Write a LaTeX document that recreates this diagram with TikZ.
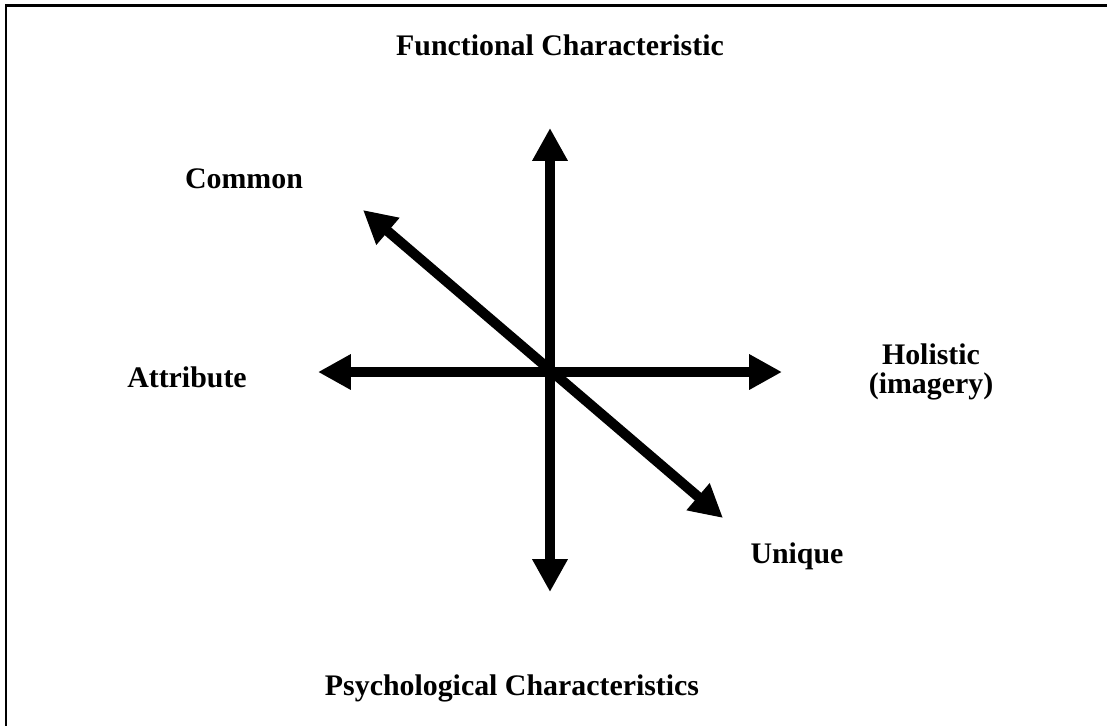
\documentclass[tikz,border=0pt]{standalone}
\usepackage{fontspec}
\setmainfont{Liberation Serif}
\usetikzlibrary{arrows.meta}
\begin{document}
\begin{tikzpicture}[x=0.02cm, y=-0.02cm,
    myaxis/.style={line width=5.7pt, {Triangle[length=18.7pt, width=19pt]}-{Triangle[length=18.7pt, width=19pt]}},
    mylabel/.style={font=\fontsize{17}{16}\selectfont\bfseries, inner sep=0pt, anchor=base, align=center}]
    \useasboundingbox (0,0) rectangle (1107,725);
    \clip (0,0) rectangle (1107,725);
    \draw[line width=1.7pt] (6,5) rectangle (1130,750);
    % axis ends
    \coordinate (o) at (550,372);
    \coordinate (func) at (550,128);
    \coordinate (psych) at (550,592);
    \coordinate (attr) at (318,372);
    \coordinate (holi) at (782,372);
    \coordinate (comm) at (363,210);
    \coordinate (uniq) at (723,518);
    \draw[myaxis] (psych) -- (func);
    \draw[myaxis] (attr) -- (holi);
    \draw[myaxis] (comm) -- (uniq);
    % labels
    \node[mylabel] (functxt) at (560,55) {Functional Characteristic};
    \node[mylabel] (commtxt) at (244,188) {Common};
    \node[mylabel] (attrtxt) at (187,387) {Attribute};
    \node[mylabel] (holitxt) at (931,393) {Holistic\\(imagery)};
    \node[mylabel] (uniqtxt) at (797,563) {Unique};
    \node[mylabel] (psychtxt) at (512,695) {Psychological Characteristics};
\end{tikzpicture}
\end{document}
